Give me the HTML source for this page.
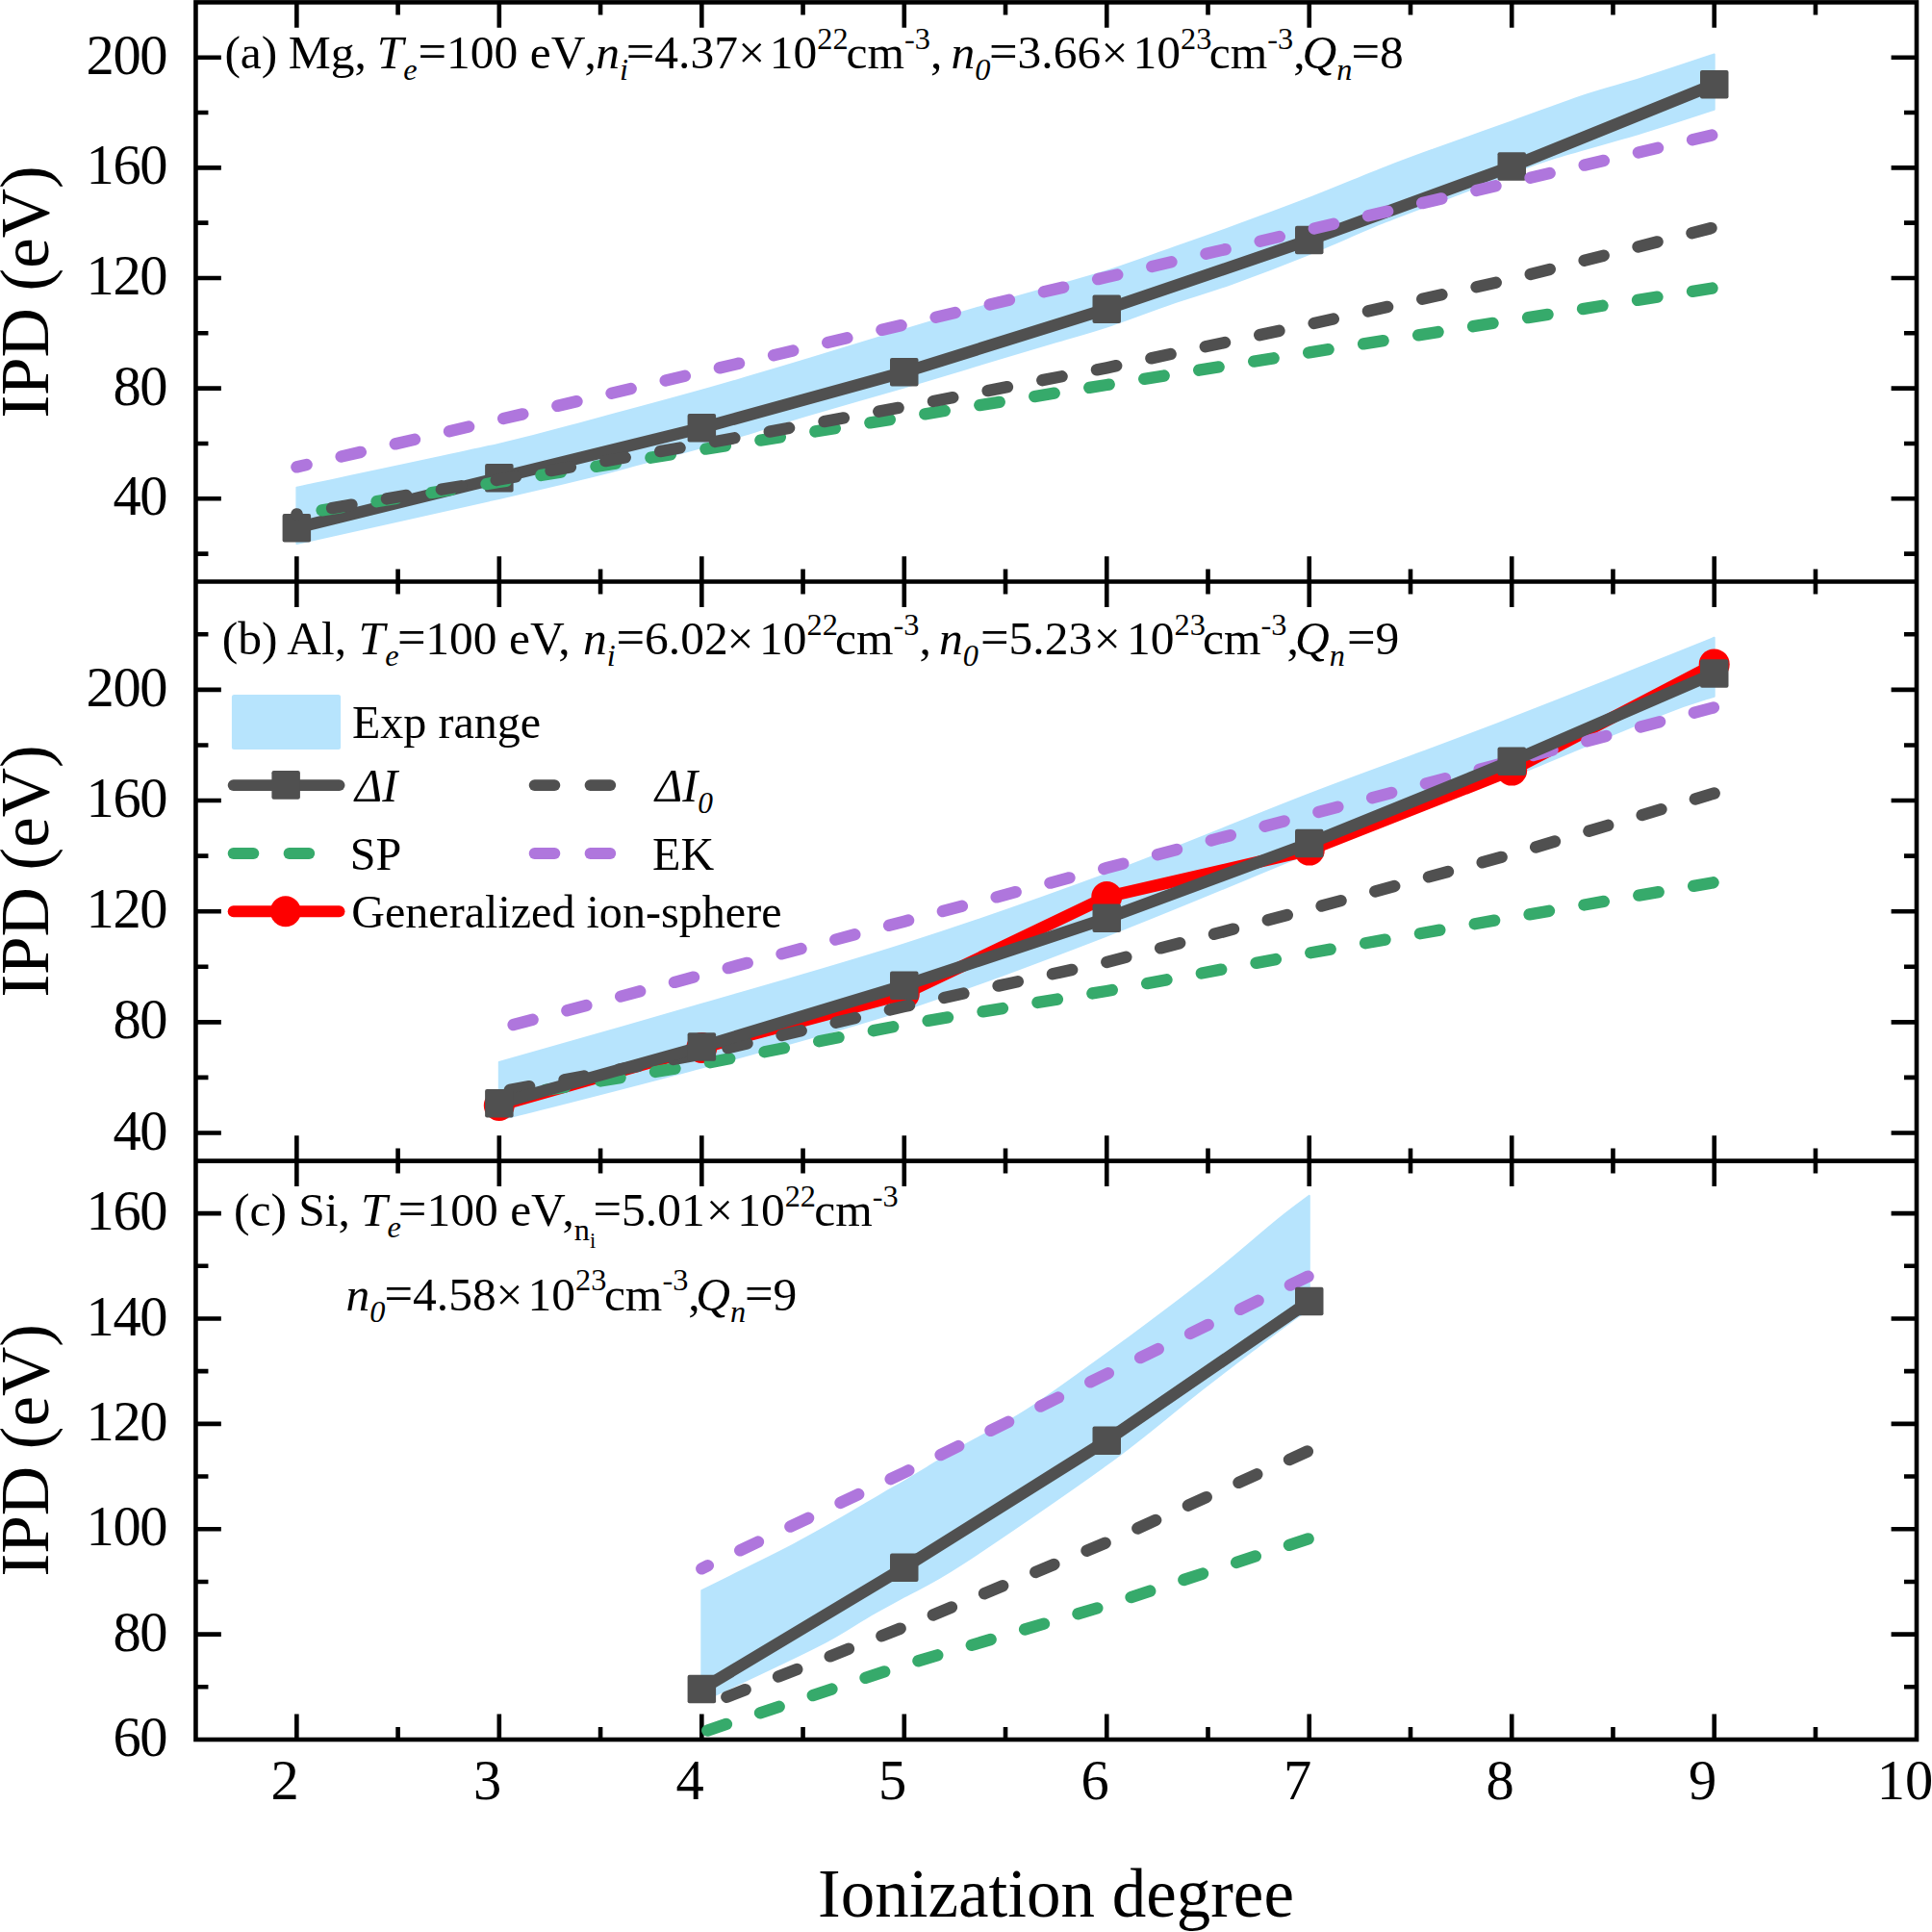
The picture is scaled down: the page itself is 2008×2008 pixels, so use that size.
<!DOCTYPE html>
<html><head><meta charset="utf-8"><title>IPD vs ionization degree</title>
<style>html,body{margin:0;padding:0;background:#fff}svg{display:block}</style></head>
<body><svg width="2008" height="2008" viewBox="0 0 2008 2008">
<rect width="2008" height="2008" fill="#fff"/>
<g fill="none" stroke="#000" stroke-width="4.6" stroke-linecap="butt">
<path d="M308.35 2.40V28.80 M413.59 2.40V15.40 M518.83 2.40V28.80 M624.07 2.40V15.40 M729.31 2.40V28.80 M834.55 2.40V15.40 M939.79 2.40V28.80 M1045.03 2.40V15.40 M1150.27 2.40V28.80 M1255.51 2.40V15.40 M1360.75 2.40V28.80 M1465.99 2.40V15.40 M1571.23 2.40V28.80 M1676.47 2.40V15.40 M1781.71 2.40V28.80 M1886.95 2.40V15.40 M308.35 578.15V630.95 M413.59 591.55V617.55 M518.83 578.15V630.95 M624.07 591.55V617.55 M729.31 578.15V630.95 M834.55 591.55V617.55 M939.79 578.15V630.95 M1045.03 591.55V617.55 M1150.27 578.15V630.95 M1255.51 591.55V617.55 M1360.75 578.15V630.95 M1465.99 591.55V617.55 M1571.23 578.15V630.95 M1676.47 591.55V617.55 M1781.71 578.15V630.95 M1886.95 591.55V617.55 M308.35 1180.20V1233.00 M413.59 1193.60V1219.60 M518.83 1180.20V1233.00 M624.07 1193.60V1219.60 M729.31 1180.20V1233.00 M834.55 1193.60V1219.60 M939.79 1180.20V1233.00 M1045.03 1193.60V1219.60 M1150.27 1180.20V1233.00 M1255.51 1193.60V1219.60 M1360.75 1180.20V1233.00 M1465.99 1193.60V1219.60 M1571.23 1180.20V1233.00 M1676.47 1193.60V1219.60 M1781.71 1180.20V1233.00 M1886.95 1193.60V1219.60 M308.35 1781.60V1808.00 M413.59 1795.00V1808.00 M518.83 1781.60V1808.00 M624.07 1795.00V1808.00 M729.31 1781.60V1808.00 M834.55 1795.00V1808.00 M939.79 1781.60V1808.00 M1045.03 1795.00V1808.00 M1150.27 1781.60V1808.00 M1255.51 1795.00V1808.00 M1360.75 1781.60V1808.00 M1465.99 1795.00V1808.00 M1571.23 1781.60V1808.00 M1676.47 1795.00V1808.00 M1781.71 1781.60V1808.00 M1886.95 1795.00V1808.00 M203.45 575.62h13.00 M1992.00 575.62h-13.00 M203.45 518.30h26.40 M1992.00 518.30h-26.40 M203.45 460.97h13.00 M1992.00 460.97h-13.00 M203.45 403.65h26.40 M1992.00 403.65h-26.40 M203.45 346.32h13.00 M1992.00 346.32h-13.00 M203.45 289.00h26.40 M1992.00 289.00h-26.40 M203.45 231.67h13.00 M1992.00 231.67h-13.00 M203.45 174.35h26.40 M1992.00 174.35h-26.40 M203.45 117.03h13.00 M1992.00 117.03h-13.00 M203.45 59.70h26.40 M1992.00 59.70h-26.40 M203.45 1177.50h26.40 M1992.00 1177.50h-26.40 M203.45 1119.92h13.00 M1992.00 1119.92h-13.00 M203.45 1062.35h26.40 M1992.00 1062.35h-26.40 M203.45 1004.77h13.00 M1992.00 1004.77h-13.00 M203.45 947.20h26.40 M1992.00 947.20h-26.40 M203.45 889.62h13.00 M1992.00 889.62h-13.00 M203.45 832.05h26.40 M1992.00 832.05h-26.40 M203.45 774.48h13.00 M1992.00 774.48h-13.00 M203.45 716.90h26.40 M1992.00 716.90h-26.40 M203.45 659.32h13.00 M1992.00 659.32h-13.00 M203.45 1753.31h13.00 M1992.00 1753.31h-13.00 M203.45 1698.62h26.40 M1992.00 1698.62h-26.40 M203.45 1643.93h13.00 M1992.00 1643.93h-13.00 M203.45 1589.24h26.40 M1992.00 1589.24h-26.40 M203.45 1534.55h13.00 M1992.00 1534.55h-13.00 M203.45 1479.86h26.40 M1992.00 1479.86h-26.40 M203.45 1425.17h13.00 M1992.00 1425.17h-13.00 M203.45 1370.48h26.40 M1992.00 1370.48h-26.40 M203.45 1315.79h13.00 M1992.00 1315.79h-13.00 M203.45 1261.10h26.40 M1992.00 1261.10h-26.40"/>
<rect x="203.45" y="2.4" width="1788.55" height="1805.6"/>
<path d="M203.45 604.55H1992.0M203.45 1206.6H1992.0"/>
</g>
<path d="M308.4 506.7C343.4 499.2 466.9 473.5 518.8 461.6C570.8 449.7 585.0 444.7 620.1 435.4C655.2 426.1 692.7 416.1 729.3 405.8C766.0 395.5 804.9 383.8 840.0 373.3C875.1 362.8 909.9 351.7 939.8 342.6C969.7 333.6 993.7 326.4 1019.4 319.0C1045.0 311.6 1072.0 304.1 1093.9 297.9C1115.7 291.7 1129.6 288.3 1150.3 281.7C1171.0 275.1 1196.4 265.7 1218.0 258.1C1239.7 250.5 1256.1 244.9 1279.9 236.2C1303.7 227.5 1334.1 216.3 1360.8 206.0C1387.4 195.7 1418.4 182.5 1439.9 174.1C1461.4 165.7 1468.1 163.3 1490.0 155.4C1511.9 147.5 1544.6 135.9 1571.2 126.4C1597.9 116.9 1627.5 105.7 1649.9 98.2C1672.4 90.7 1684.2 88.5 1706.1 81.5C1728.1 74.5 1769.1 60.7 1781.7 56.5L1781.7 113.7C1769.1 117.8 1734.1 129.5 1706.1 138.0C1678.2 146.5 1636.7 157.5 1614.2 164.5C1591.7 171.5 1587.5 173.8 1571.2 180.0C1555.0 186.2 1538.4 193.1 1516.5 201.5C1494.6 209.9 1465.8 220.0 1439.9 230.4C1413.9 240.8 1387.4 253.2 1360.8 264.0C1334.1 274.8 1303.7 286.4 1279.9 295.0C1256.1 303.6 1239.7 307.9 1218.0 315.3C1196.4 322.7 1171.0 332.7 1150.3 339.5C1129.6 346.3 1115.7 349.8 1093.9 356.3C1072.0 362.8 1045.0 370.9 1019.4 378.6C993.7 386.3 969.7 393.7 939.8 402.5C909.9 411.3 866.8 423.4 840.0 431.4C813.3 439.3 797.9 444.6 779.4 450.2C761.0 455.8 748.3 459.7 729.3 465.0C710.3 470.3 683.7 477.3 665.5 482.1C647.3 486.9 644.5 488.0 620.1 494.0C595.6 500.0 570.8 506.1 518.8 517.9C466.9 529.7 343.4 557.1 308.4 565.0Z" fill="#b7e4fd" stroke="#b7e4fd" stroke-width="2" stroke-linejoin="round"/>
<polyline points="308.4,548.6 518.8,496.6 729.3,444.7 939.8,386.8 1150.3,321.2 1360.8,249.5 1571.2,173.0 1781.7,87.8" fill="none" stroke="#505050" stroke-width="12.4" stroke-linecap="round" stroke-linejoin="round"/>
<rect x="293.6" y="533.9" width="29.5" height="29.5" rx="2" fill="#505050"/>
<rect x="504.1" y="481.9" width="29.5" height="29.5" rx="2" fill="#505050"/>
<rect x="714.6" y="429.9" width="29.5" height="29.5" rx="2" fill="#505050"/>
<rect x="925.0" y="372.1" width="29.5" height="29.5" rx="2" fill="#505050"/>
<rect x="1135.5" y="306.4" width="29.5" height="29.5" rx="2" fill="#505050"/>
<rect x="1346.0" y="234.8" width="29.5" height="29.5" rx="2" fill="#505050"/>
<rect x="1556.5" y="158.2" width="29.5" height="29.5" rx="2" fill="#505050"/>
<rect x="1767.0" y="73.0" width="29.5" height="29.5" rx="2" fill="#505050"/>
<polyline points="308.4,534.5 518.8,500.9 729.3,467.3 939.8,433.7 1150.3,400.0 1360.8,366.4 1571.2,332.8 1781.7,299.2" fill="none" stroke="#36aa6b" stroke-width="12.4" stroke-linecap="round" stroke-linejoin="round" stroke-dasharray="20.7 37.0" stroke-dashoffset="31.2"/>
<polyline points="308.4,534.4 518.8,498.5 729.3,461.5 939.8,422.8 1150.3,382.3 1360.8,337.1 1571.2,290.0 1781.7,236.3" fill="none" stroke="#505050" stroke-width="12.4" stroke-linecap="round" stroke-linejoin="round" stroke-dasharray="20.7 37.0" stroke-dashoffset="20.5"/>
<polyline points="308.4,485.4 518.8,436.1 729.3,386.7 939.8,337.4 1150.3,288.0 1360.8,238.7 1571.2,189.3 1781.7,140.0" fill="none" stroke="#af76dd" stroke-width="12.4" stroke-linecap="round" stroke-linejoin="round" stroke-dasharray="20.7 37.0" stroke-dashoffset="10.2"/>
<path d="M518.8 1104.0C553.9 1094.0 659.1 1064.2 729.3 1043.8C799.5 1023.4 869.6 1004.0 939.8 981.5C1009.9 959.0 1080.1 934.5 1150.3 908.5C1220.4 882.5 1304.4 847.2 1360.8 825.5C1417.1 803.8 1453.4 791.2 1488.5 778.0C1523.6 764.8 1545.9 756.3 1571.2 746.5C1596.6 736.7 1618.2 728.2 1640.7 719.3C1663.1 710.4 1682.4 702.7 1705.9 693.3C1729.4 683.9 1769.1 667.9 1781.7 662.8L1781.7 723.7C1772.7 726.8 1758.6 730.1 1727.8 742.2C1697.1 754.3 1623.4 785.9 1597.3 796.5C1571.2 807.1 1593.1 797.9 1571.2 806.0C1549.3 814.1 1501.1 831.6 1466.0 845.0C1430.9 858.4 1413.4 865.4 1360.8 886.6C1308.1 907.9 1220.4 945.4 1150.3 972.5C1080.1 999.6 1009.9 1026.7 939.8 1049.5C869.6 1072.3 799.5 1090.4 729.3 1109.5C659.1 1128.6 553.9 1154.9 518.8 1164.0Z" fill="#b7e4fd" stroke="#b7e4fd" stroke-width="2" stroke-linejoin="round"/>
<polyline points="518.8,1149.0 729.3,1089.0 939.8,1033.0 1150.3,932.1 1360.8,883.6 1571.2,800.6 1781.7,690.4" fill="none" stroke="#fe0000" stroke-width="12.4" stroke-linecap="round" stroke-linejoin="round"/>
<circle cx="518.8" cy="1149.0" r="16" fill="#fe0000"/>
<circle cx="729.3" cy="1089.0" r="16" fill="#fe0000"/>
<circle cx="939.8" cy="1033.0" r="16" fill="#fe0000"/>
<circle cx="1150.3" cy="932.1" r="16" fill="#fe0000"/>
<circle cx="1360.8" cy="883.6" r="16" fill="#fe0000"/>
<circle cx="1571.2" cy="800.6" r="16" fill="#fe0000"/>
<circle cx="1781.7" cy="690.4" r="16" fill="#fe0000"/>
<polyline points="518.8,1141.0 729.3,1105.9 939.8,1065.0 1150.3,1030.0 1360.8,990.5 1571.2,953.5 1781.7,917.1" fill="none" stroke="#36aa6b" stroke-width="12.4" stroke-linecap="round" stroke-linejoin="round" stroke-dasharray="20.7 37.0" stroke-dashoffset="8.6"/>
<polyline points="518.8,1069.0 729.3,1013.4 939.8,957.7 1150.3,902.1 1360.8,846.5 1571.2,790.8 1781.7,735.2" fill="none" stroke="#af76dd" stroke-width="12.4" stroke-linecap="round" stroke-linejoin="round" stroke-dasharray="20.7 37.0" stroke-dashoffset="42.4"/>
<polyline points="518.8,1135.0 729.3,1095.5 939.8,1046.0 1150.3,1000.0 1360.8,945.0 1571.2,888.0 1781.7,824.5" fill="none" stroke="#505050" stroke-width="12.4" stroke-linecap="round" stroke-linejoin="round" stroke-dasharray="20.7 37.0" stroke-dashoffset="46.5"/>
<polyline points="518.8,1146.8 729.3,1087.9 939.8,1024.2 1150.3,954.4 1360.8,876.5 1571.2,791.1 1781.7,700.0" fill="none" stroke="#505050" stroke-width="12.4" stroke-linecap="round" stroke-linejoin="round"/>
<rect x="504.1" y="1132.0" width="29.5" height="29.5" rx="2" fill="#505050"/>
<rect x="714.6" y="1073.2" width="29.5" height="29.5" rx="2" fill="#505050"/>
<rect x="925.0" y="1009.5" width="29.5" height="29.5" rx="2" fill="#505050"/>
<rect x="1135.5" y="939.6" width="29.5" height="29.5" rx="2" fill="#505050"/>
<rect x="1346.0" y="861.8" width="29.5" height="29.5" rx="2" fill="#505050"/>
<rect x="1556.5" y="776.4" width="29.5" height="29.5" rx="2" fill="#505050"/>
<rect x="1767.0" y="685.2" width="29.5" height="29.5" rx="2" fill="#505050"/>
<path d="M729.3 1653.1C737.4 1649.1 761.9 1637.0 777.7 1629.1C793.5 1621.2 808.6 1613.9 824.0 1605.8C839.5 1597.7 854.9 1589.0 870.3 1580.2C885.8 1571.4 905.1 1559.7 916.6 1553.0C928.2 1546.3 931.9 1544.5 939.8 1539.8C947.7 1535.1 954.1 1531.1 964.2 1525.0C974.3 1518.9 983.0 1513.2 1000.2 1503.3C1017.4 1493.4 1042.1 1481.8 1067.1 1465.7C1092.1 1449.7 1128.5 1422.6 1150.3 1407.0C1172.0 1391.4 1178.9 1386.3 1197.6 1372.2C1216.4 1358.1 1241.1 1339.6 1262.9 1322.2C1284.6 1304.8 1311.8 1281.0 1328.1 1267.8C1344.4 1254.6 1355.3 1247.0 1360.8 1242.8L1360.8 1362.0C1359.0 1363.0 1359.1 1361.4 1350.0 1367.8C1340.9 1374.2 1324.4 1386.6 1306.2 1400.4C1288.1 1414.2 1267.2 1430.1 1241.2 1450.4C1215.2 1470.7 1190.4 1492.9 1150.3 1522.0C1110.1 1551.1 1035.3 1602.3 1000.2 1625.2C965.1 1648.1 956.1 1650.3 939.8 1659.5C923.4 1668.7 917.1 1671.8 902.1 1680.3C887.2 1688.8 876.5 1697.2 850.1 1710.7C823.8 1724.2 764.2 1751.9 744.0 1761.4C723.9 1771.0 731.8 1766.9 729.3 1768.0Z" fill="#b7e4fd" stroke="#b7e4fd" stroke-width="2" stroke-linejoin="round"/>
<polyline points="729.3,1800.5 939.8,1730.5 1150.3,1668.4 1360.8,1599.0" fill="none" stroke="#36aa6b" stroke-width="12.4" stroke-linecap="round" stroke-linejoin="round" stroke-dasharray="20.7 37.0" stroke-dashoffset="51.4"/>
<polyline points="729.3,1774.0 939.8,1691.0 1150.3,1603.0 1360.8,1507.6" fill="none" stroke="#505050" stroke-width="12.4" stroke-linecap="round" stroke-linejoin="round" stroke-dasharray="20.7 37.0" stroke-dashoffset="29.7"/>
<polyline points="729.3,1630.3 939.8,1530.5 1150.3,1428.0 1360.8,1326.0" fill="none" stroke="#af76dd" stroke-width="12.4" stroke-linecap="round" stroke-linejoin="round" stroke-dasharray="20.7 37.0" stroke-dashoffset="13.5"/>
<polyline points="729.3,1755.5 939.8,1629.3 1150.3,1497.2 1360.8,1352.6" fill="none" stroke="#505050" stroke-width="12.4" stroke-linecap="round" stroke-linejoin="round"/>
<rect x="714.6" y="1740.8" width="29.5" height="29.5" rx="2" fill="#505050"/>
<rect x="925.0" y="1614.5" width="29.5" height="29.5" rx="2" fill="#505050"/>
<rect x="1135.5" y="1482.5" width="29.5" height="29.5" rx="2" fill="#505050"/>
<rect x="1346.0" y="1337.8" width="29.5" height="29.5" rx="2" fill="#505050"/>
<rect x="240.9" y="722" width="113.2" height="57" rx="2.5" fill="#b7e4fd"/>
<path d="M242.65 816.1H352.55" stroke="#505050" stroke-width="11.9" stroke-linecap="round"/>
<rect x="282.4" y="801.1" width="29.5" height="29.6" rx="2.2" fill="#505050"/>
<path d="M555.65 816.1h20.70" stroke="#505050" stroke-width="11.9" stroke-linecap="round"/>
<path d="M613.55 816.1h20.70" stroke="#505050" stroke-width="11.9" stroke-linecap="round"/>
<path d="M242.65 887.0h20.70" stroke="#36aa6b" stroke-width="11.9" stroke-linecap="round"/>
<path d="M300.55 887.0h20.70" stroke="#36aa6b" stroke-width="11.9" stroke-linecap="round"/>
<path d="M555.65 887.0h20.70" stroke="#af76dd" stroke-width="11.9" stroke-linecap="round"/>
<path d="M613.55 887.0h20.70" stroke="#af76dd" stroke-width="11.9" stroke-linecap="round"/>
<path d="M242.65 947.3H352.55" stroke="#fe0000" stroke-width="11.9" stroke-linecap="round"/>
<circle cx="296.8" cy="947.3" r="16" fill="#fe0000"/>
<g font-family="'Liberation Serif', 'Times New Roman', serif" fill="#000">
<text x="173.3" y="535.3" font-size="58.5" text-anchor="end" letter-spacing="-1.3">40</text>
<text x="173.3" y="420.6" font-size="58.5" text-anchor="end" letter-spacing="-1.3">80</text>
<text x="173.3" y="306.0" font-size="58.5" text-anchor="end" letter-spacing="-1.3">120</text>
<text x="173.3" y="191.4" font-size="58.5" text-anchor="end" letter-spacing="-1.3">160</text>
<text x="173.3" y="76.7" font-size="58.5" text-anchor="end" letter-spacing="-1.3">200</text>
<text x="173.3" y="1194.5" font-size="58.5" text-anchor="end" letter-spacing="-1.3">40</text>
<text x="173.3" y="1079.3" font-size="58.5" text-anchor="end" letter-spacing="-1.3">80</text>
<text x="173.3" y="964.2" font-size="58.5" text-anchor="end" letter-spacing="-1.3">120</text>
<text x="173.3" y="849.0" font-size="58.5" text-anchor="end" letter-spacing="-1.3">160</text>
<text x="173.3" y="733.9" font-size="58.5" text-anchor="end" letter-spacing="-1.3">200</text>
<text x="173.3" y="1825.0" font-size="58.5" text-anchor="end" letter-spacing="-1.3">60</text>
<text x="173.3" y="1715.6" font-size="58.5" text-anchor="end" letter-spacing="-1.3">80</text>
<text x="173.3" y="1606.2" font-size="58.5" text-anchor="end" letter-spacing="-1.3">100</text>
<text x="173.3" y="1496.9" font-size="58.5" text-anchor="end" letter-spacing="-1.3">120</text>
<text x="173.3" y="1387.5" font-size="58.5" text-anchor="end" letter-spacing="-1.3">140</text>
<text x="173.3" y="1278.1" font-size="58.5" text-anchor="end" letter-spacing="-1.3">160</text>
<text x="296.2" y="1869.8" font-size="58.5" text-anchor="middle">2</text>
<text x="506.6" y="1869.8" font-size="58.5" text-anchor="middle">3</text>
<text x="717.1" y="1869.8" font-size="58.5" text-anchor="middle">4</text>
<text x="927.6" y="1869.8" font-size="58.5" text-anchor="middle">5</text>
<text x="1138.1" y="1869.8" font-size="58.5" text-anchor="middle">6</text>
<text x="1348.5" y="1869.8" font-size="58.5" text-anchor="middle">7</text>
<text x="1559.0" y="1869.8" font-size="58.5" text-anchor="middle">8</text>
<text x="1769.5" y="1869.8" font-size="58.5" text-anchor="middle">9</text>
<text x="1980.0" y="1869.8" font-size="58.5" text-anchor="middle">10</text>
<text x="1097.5" y="1992.2" font-size="71" text-anchor="middle">Ionization degree</text>
<text transform="translate(49.7 303.5) rotate(-90)" font-size="71" text-anchor="middle">IPD (eV)</text>
<text transform="translate(49.7 905.5) rotate(-90)" font-size="71" text-anchor="middle">IPD (eV)</text>
<text transform="translate(49.7 1507.3) rotate(-90)" font-size="71" text-anchor="middle">IPD (eV)</text>
<text x="233.4" y="71.3" xml:space="preserve"><tspan font-size="49.5">(a)</tspan></text>
<text x="299.7" y="71.3" xml:space="preserve"><tspan font-size="49.5">Mg, </tspan></text>
<text x="391.8" y="71.3" xml:space="preserve"><tspan font-size="49.5" font-style="italic">T</tspan><tspan font-size="32.3" font-style="italic" dy="12.0">e</tspan></text>
<text x="434.5" y="71.3" xml:space="preserve"><tspan font-size="52.5">=</tspan><tspan font-size="49.5">100 eV</tspan></text>
<text x="607.5" y="71.3" xml:space="preserve"><tspan font-size="49.5">,</tspan></text>
<text x="619.3" y="71.3" xml:space="preserve"><tspan font-size="49.5" font-style="italic">n</tspan><tspan font-size="32.3" font-style="italic" dy="12.0">i</tspan></text>
<text x="650.7" y="71.3" xml:space="preserve"><tspan font-size="52.5">=</tspan><tspan font-size="49.5">4.37</tspan></text>
<text x="767.2" y="71.3" xml:space="preserve"><tspan font-size="49.5">×</tspan></text>
<text x="799.8" y="71.3" xml:space="preserve"><tspan font-size="49.5">10</tspan><tspan font-size="32.3" dy="-20.4">22</tspan></text>
<text x="879.6" y="71.3" xml:space="preserve"><tspan font-size="49.5">cm</tspan><tspan font-size="32.3" dy="-20.4">-3</tspan><tspan font-size="49.5" dy="20.4">, </tspan></text>
<text x="988.4" y="71.3" xml:space="preserve"><tspan font-size="49.5" font-style="italic">n</tspan><tspan font-size="32.3" font-style="italic" dy="12.0">0</tspan></text>
<text x="1027.9" y="71.3" xml:space="preserve"><tspan font-size="52.5">=</tspan><tspan font-size="49.5">3.66</tspan></text>
<text x="1144.4" y="71.3" xml:space="preserve"><tspan font-size="49.5">×</tspan></text>
<text x="1177.5" y="71.3" xml:space="preserve"><tspan font-size="49.5">10</tspan><tspan font-size="32.3" dy="-20.4">23</tspan></text>
<text x="1256.8" y="71.3" xml:space="preserve"><tspan font-size="49.5">cm</tspan><tspan font-size="32.3" dy="-20.4">-3</tspan><tspan font-size="49.5" dy="20.4">,</tspan></text>
<text x="1353.5" y="71.3" xml:space="preserve"><tspan font-size="49.5" font-style="italic">Q</tspan><tspan font-size="32.3" font-style="italic" dy="12.0">n</tspan></text>
<text x="1404.5" y="71.3" xml:space="preserve"><tspan font-size="52.5">=</tspan><tspan font-size="49.5">8</tspan></text>
<text x="230.8" y="680.4" xml:space="preserve"><tspan font-size="49.5">(b) Al, </tspan></text>
<text x="372.6" y="680.4" xml:space="preserve"><tspan font-size="49.5" font-style="italic">T</tspan><tspan font-size="32.3" font-style="italic" dy="12.0">e</tspan></text>
<text x="412.9" y="680.4" xml:space="preserve"><tspan font-size="52.5">=</tspan></text>
<text x="442.3" y="680.4" xml:space="preserve"><tspan font-size="49.5">100 eV, </tspan></text>
<text x="606.0" y="680.4" xml:space="preserve"><tspan font-size="49.5" font-style="italic">n</tspan><tspan font-size="32.3" font-style="italic" dy="12.0">i</tspan></text>
<text x="640.5" y="680.4" xml:space="preserve"><tspan font-size="52.5">=</tspan><tspan font-size="49.5">6.02</tspan></text>
<text x="755.6" y="680.4" xml:space="preserve"><tspan font-size="49.5">×</tspan></text>
<text x="789.1" y="680.4" xml:space="preserve"><tspan font-size="49.5">10</tspan><tspan font-size="32.3" dy="-20.4">22</tspan></text>
<text x="868.0" y="680.4" xml:space="preserve"><tspan font-size="49.5">cm</tspan><tspan font-size="32.3" dy="-20.4">-3</tspan><tspan font-size="49.5" dy="20.4">, </tspan></text>
<text x="976.0" y="680.4" xml:space="preserve"><tspan font-size="49.5" font-style="italic">n</tspan><tspan font-size="32.3" font-style="italic" dy="12.0">0</tspan></text>
<text x="1019.0" y="680.4" xml:space="preserve"><tspan font-size="52.5">=</tspan><tspan font-size="49.5">5.23</tspan></text>
<text x="1136.8" y="680.4" xml:space="preserve"><tspan font-size="49.5">×</tspan></text>
<text x="1171.1" y="680.4" xml:space="preserve"><tspan font-size="49.5">10</tspan><tspan font-size="32.3" dy="-20.4">23</tspan></text>
<text x="1250.0" y="680.4" xml:space="preserve"><tspan font-size="49.5">cm</tspan><tspan font-size="32.3" dy="-20.4">-3</tspan><tspan font-size="49.5" dy="20.4">,</tspan></text>
<text x="1346.1" y="680.4" xml:space="preserve"><tspan font-size="49.5" font-style="italic">Q</tspan><tspan font-size="32.3" font-style="italic" dy="12.0">n</tspan></text>
<text x="1399.9" y="680.4" xml:space="preserve"><tspan font-size="52.5">=</tspan><tspan font-size="49.5">9</tspan></text>
<text x="243.0" y="1274.2" xml:space="preserve"><tspan font-size="49.5">(c) Si, </tspan></text>
<text x="374.9" y="1274.2" xml:space="preserve"><tspan font-size="49.5" font-style="italic">T</tspan><tspan font-size="32.3" font-style="italic" dy="12.0">e</tspan></text>
<text x="413.8" y="1274.2" xml:space="preserve"><tspan font-size="52.5">=</tspan></text>
<text x="443.5" y="1274.2" xml:space="preserve"><tspan font-size="49.5">100 eV</tspan></text>
<text x="584.6" y="1274.2" xml:space="preserve"><tspan font-size="49.5">,</tspan></text>
<text x="596.8" y="1274.2" xml:space="preserve"><tspan font-size="32.3" dy="14.5">n</tspan><tspan font-size="22.5" dy="8.3">i</tspan></text>
<text x="616.5" y="1274.2" xml:space="preserve"><tspan font-size="52.5">=</tspan><tspan font-size="49.5">5.01</tspan></text>
<text x="734.1" y="1274.2" xml:space="preserve"><tspan font-size="49.5">×</tspan></text>
<text x="766.2" y="1274.2" xml:space="preserve"><tspan font-size="49.5">10</tspan><tspan font-size="32.3" dy="-20.4">22</tspan></text>
<text x="846.3" y="1274.2" xml:space="preserve"><tspan font-size="49.5">cm</tspan><tspan font-size="32.3" dy="-20.4">-3</tspan></text>
<text x="359.4" y="1361.6" xml:space="preserve"><tspan font-size="49.5" font-style="italic">n</tspan><tspan font-size="32.3" font-style="italic" dy="12.0">0</tspan></text>
<text x="399.4" y="1361.6" xml:space="preserve"><tspan font-size="52.5">=</tspan><tspan font-size="49.5">4.58</tspan></text>
<text x="515.6" y="1361.6" xml:space="preserve"><tspan font-size="49.5">×</tspan></text>
<text x="548.5" y="1361.6" xml:space="preserve"><tspan font-size="49.5">10</tspan><tspan font-size="32.3" dy="-20.4">23</tspan></text>
<text x="627.9" y="1361.6" xml:space="preserve"><tspan font-size="49.5">cm</tspan><tspan font-size="32.3" dy="-20.4">-3</tspan><tspan font-size="49.5" dy="20.4">,</tspan></text>
<text x="723.3" y="1361.6" xml:space="preserve"><tspan font-size="49.5" font-style="italic">Q</tspan><tspan font-size="32.3" font-style="italic" dy="12.0">n</tspan></text>
<text x="773.9" y="1361.6" xml:space="preserve"><tspan font-size="52.5">=</tspan><tspan font-size="49.5">9</tspan></text>
<text x="365.9" y="766.6" xml:space="preserve"><tspan font-size="48.1">Exp range</tspan></text>
<text x="369.0" y="832.6" xml:space="preserve"><tspan font-size="48.1" font-style="italic">ΔI</tspan></text>
<text x="681.1" y="832.6" xml:space="preserve"><tspan font-size="48.1" font-style="italic">ΔI</tspan><tspan font-size="31.39" font-style="italic" dy="12.0">0</tspan></text>
<text x="363.7" y="904.0" xml:space="preserve"><tspan font-size="48.1">SP</tspan></text>
<text x="678.0" y="904.0" xml:space="preserve"><tspan font-size="48.1">EK</tspan></text>
<text x="365.2" y="963.7" xml:space="preserve"><tspan font-size="48.1">Generalized ion-sphere</tspan></text>
</g>
</svg></body></html>
